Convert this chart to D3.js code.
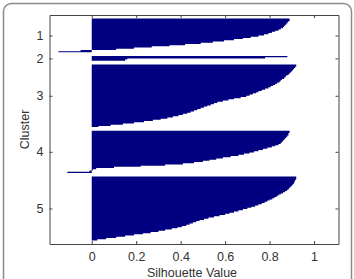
<!DOCTYPE html>
<html>
<head>
<meta charset="utf-8">
<title>Silhouette Value</title>
<script src="https://d3js.org/d3.v7.min.js" charset="utf-8"></script>
<style>
  body { margin: 0; background: #fff; }
  text { font-family: "Liberation Sans", Arial, sans-serif; }
</style>
</head>
<body>
<script>

// silhouette values per cluster, sorted high to low
var clusters = ["1", "2", "3", "4", "5"];

var sil1 = [0.89, 0.89, 0.885, 0.88, 0.875, 0.87, 0.865, 0.86, 0.85, 0.84,
            0.825, 0.81, 0.795, 0.775, 0.75, 0.715, 0.68, 0.64, 0.595, 0.545,
            0.49, 0.42, 0.35, 0.27, 0.19, 0.11, -0.05, -0.15];

var sil2 = [0.88, 0.78, 0.16, 0.15];

var sil3 = [0.92, 0.92, 0.915, 0.91, 0.905, 0.90, 0.895, 0.89, 0.885, 0.875,
            0.87, 0.865, 0.855, 0.85, 0.845, 0.835, 0.825, 0.815, 0.805, 0.795,
            0.78, 0.765, 0.75, 0.74, 0.725, 0.71, 0.695, 0.67, 0.64, 0.615,
            0.59, 0.565, 0.55, 0.535, 0.52, 0.505, 0.49, 0.475, 0.46, 0.445,
            0.43, 0.41, 0.39, 0.365, 0.34, 0.31, 0.275, 0.235, 0.19, 0.14,
            0.085, 0.03];

var sil4 = [0.89, 0.89, 0.885, 0.885, 0.88, 0.875, 0.87, 0.865, 0.86, 0.855,
            0.85, 0.84, 0.825, 0.81, 0.79, 0.77, 0.75, 0.73, 0.71, 0.685,
            0.66, 0.625, 0.59, 0.56, 0.53, 0.50, 0.46, 0.41, 0.33, 0.22,
            0.10, 0.02, 0.005, -0.01, -0.11];

var sil5 = [0.92, 0.92, 0.918, 0.915, 0.912, 0.91, 0.905, 0.90, 0.895, 0.89,
            0.885, 0.878, 0.87, 0.86, 0.85, 0.84, 0.832, 0.822, 0.812, 0.80,
            0.79, 0.778, 0.765, 0.75, 0.735, 0.718, 0.70, 0.68, 0.66, 0.64,
            0.62, 0.60, 0.575, 0.55, 0.525, 0.505, 0.485, 0.47, 0.455, 0.44,
            0.425, 0.405, 0.385, 0.36, 0.33, 0.30, 0.265, 0.23, 0.19, 0.15,
            0.11, 0.065, 0.025];

var xTicks = [0, 0.2, 0.4, 0.6, 0.8, 1];

var allSil = [sil1, sil2, sil3, sil4, sil5];

// stack rows, with a gap between clusters (like matlab's silhouette)
var gap = 3;
var groups = [];
var centers = [];
var pos = gap;
allSil.forEach(function(vals, k) {
    centers.push(pos + vals.length / 2);
    var pts = vals.map(function(v, i) { return {value: v, row: pos + i}; });
    // closing edge of the last bar
    pts.push({value: vals[vals.length - 1], row: pos + vals.length});
    groups.push({cluster: clusters[k], points: pts});
    pos += vals.length + gap;
});
var nRows = pos;

var margin = {top: 15, bottom: 35, left: 49.5, right: 15.5};
var width = 354 - margin.left - margin.right;
var height = 279 - margin.top - margin.bottom;

var xScale = d3.scaleLinear()
                .domain([-0.19, 1.11])
                .range([0, width]);

var yScale = d3.scaleLinear()
                .domain([0, nRows])
                .range([0, height]);

var svg = d3.select("body")
            .append("svg")
             .attr("width", 354)
             .attr("height", 279);

// outer figure frame
svg.append("rect")
    .attr("x", 3.5)
    .attr("y", 3.5)
    .attr("width", 348)
    .attr("height", 300)
    .attr("rx", 8)
    .style("fill", "#fff")
    .style("stroke", "#8a8a8a")
    .style("stroke-width", 1.5);

var g = svg.append("g")
            .attr("transform", "translate(" + margin.left + "," + margin.top + ")");

g.append("rect")
    .attr("width", width)
    .attr("height", height)
    .style("fill", "#fff");

// horizontal bars of one cluster drawn as one stepped shape
var bars = d3.area()
    .y(function(d) { return yScale(d.row); })
    .x0(xScale(0))
    .x1(function(d) { return xScale(d.value); })
    .curve(d3.curveStepBefore);

g.selectAll(".cluster")
    .data(groups)
    .enter()
    .append("path")
     .attr("class", "cluster")
     .attr("d", function(d) { return bars(d.points); })
     .style("fill", "#000080")
     .style("stroke", "none");

function styleAxis(sel) {
    sel.selectAll("path").style("stroke", "#444");
    sel.selectAll("line").style("stroke", "#444");
    sel.selectAll("text")
        .style("font-size", "12.5px")
        .style("fill", "#333")
        .style("font-family", "'Liberation Sans', Arial, sans-serif");
}

g.append("g")
    .attr("transform", "translate(0," + height + ")")
    .call(d3.axisBottom(xScale).tickValues(xTicks).tickSizeInner(-3).tickSizeOuter(0)
            .tickPadding(8).tickFormat(function(d) { return String(d); }))
    .call(styleAxis);

g.append("g")
    .call(d3.axisTop(xScale).tickValues(xTicks).tickSizeInner(-3).tickSizeOuter(0)
            .tickFormat(""))
    .call(styleAxis);

g.append("g")
    .call(d3.axisLeft(yScale).tickValues(centers).tickSizeInner(-3).tickSizeOuter(0)
            .tickPadding(6).tickFormat(function(d, i) { return clusters[i]; }))
    .call(styleAxis);

g.append("g")
    .attr("transform", "translate(" + width + ",0)")
    .call(d3.axisRight(yScale).tickValues(centers).tickSizeInner(-3).tickSizeOuter(0)
            .tickFormat(""))
    .call(styleAxis);

svg.append("text")
    .attr("x", margin.left + width / 2 - 2)
    .attr("y", 277)
    .style("text-anchor", "middle")
    .style("font-size", "12.5px")
    .style("fill", "#333")
    .text("Silhouette Value");

svg.append("text")
    .attr("transform", "translate(28.5," + (margin.top + height / 2) + ") rotate(-90)")
    .style("text-anchor", "middle")
    .style("font-size", "12.5px")
    .style("fill", "#333")
    .text("Cluster");

</script>
</body>
</html>
